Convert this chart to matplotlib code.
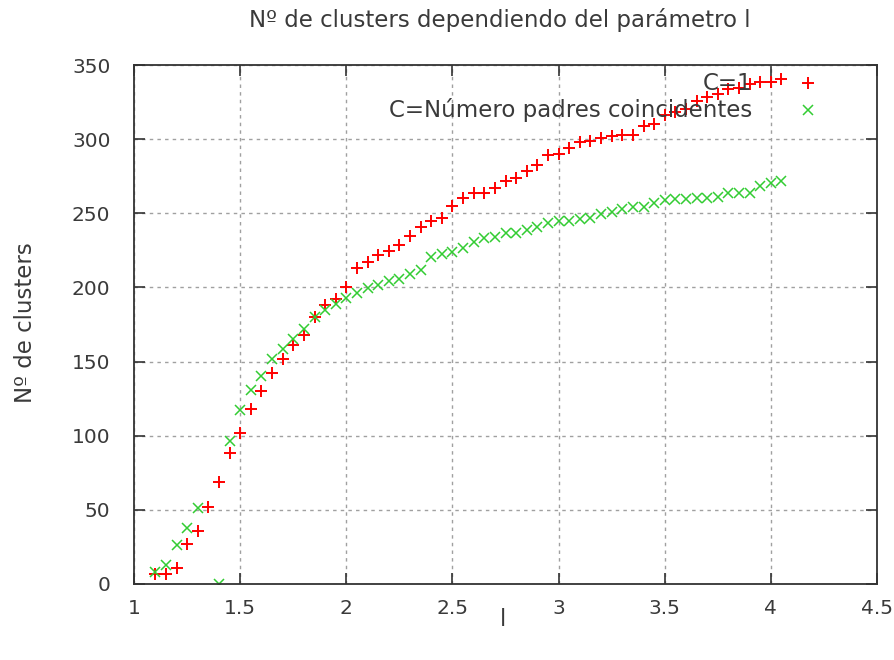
import numpy as np
import matplotlib
matplotlib.use("Agg")
import matplotlib.pyplot as plt
from matplotlib.ticker import FuncFormatter

# Data: parameter l from 1.1 to 4.05 in steps of 0.05
l_values = [round(1.1 + 0.05 * i, 2) for i in range(60)]

c1 = [7, 7, 11, 27, 36, 52, 69, 88, 102, 118,
      130, 142, 152, 161, 168, 180, 188, 192, 200, 213,
      217, 222, 224.5, 228.6, 235, 241, 245, 247, 255, 260,
      263.4, 264, 267, 272, 273.6, 278.7, 282.5, 289.3, 290, 293.8,
      297.8, 299, 301, 302, 302.5, 303, 309, 310.5, 316.5, 318.5,
      320.5, 325.5, 328.6, 330.6, 333.8, 334.8, 337, 338.4, 338.7, 340.7]

c_padres = [8, 13, 26, 37.5, 51, np.nan, 0, 96.6, 117, 131,
            140, 152, 158.5, 165, 172, 180, 185, 189, 193, 196,
            199.4, 201.6, 204, 205.4, 209, 211.7, 220.3, 222.5, 223.7, 226.4,
            230.4, 233, 234.2, 236.5, 237, 238.7, 241, 243.2, 244.8, 244.8,
            246, 246.6, 249.6, 251, 252.7, 254.4, 254.4, 257.1, 258.9, 259.4,
            259.4, 260.1, 260.1, 260.8, 263.4, 263.4, 263.4, 268.4, 270.6, 272]

series_labels = ["C=1", "C=Número padres coincidentes"]
x_ticks = [1, 1.5, 2, 2.5, 3, 3.5, 4, 4.5]
y_ticks = [0, 50, 100, 150, 200, 250, 300, 350]

plt.rcParams['font.family'] = ['DejaVu Sans']
text_color = '#3a3a3a'
red = '#ff0000'
green = '#33cc33'
FS = 16.5
TFS = 14.5

fig = plt.figure(figsize=(8.94, 6.6), dpi=100)
ax = fig.add_axes([0.150, 0.1152, 0.831, 0.7863])

ax.plot(l_values, c1, linestyle='none', marker='+', markersize=8,
        markeredgewidth=1.4, color=red)
ax.plot(l_values, c_padres, linestyle='none', marker='x', markersize=7,
        markeredgewidth=1.1, color=green)

ax.set_xlim(1, 4.5)
ax.set_ylim(0, 350)
ax.set_xticks(x_ticks)
ax.set_yticks(y_ticks)
ax.xaxis.set_major_formatter(FuncFormatter(lambda v, p: f"{v:g}"))
ax.yaxis.set_major_formatter(FuncFormatter(lambda v, p: f"{v:g}"))

ax.tick_params(direction='in', length=8, width=1.2, top=True, right=True,
               labelsize=TFS, colors='#333333', labelcolor=text_color)
ax.tick_params(axis='y', pad=17)
ax.tick_params(axis='x', pad=11)
for s in ax.spines.values():
    s.set_linewidth(1.3)
    s.set_color('#333333')

ax.grid(True, color='#a0a0a0', linestyle=(0, (2.5, 3)), linewidth=1.0)
ax.set_axisbelow(True)

fig.text(0.559, 0.970, "Nº de clusters dependiendo del parámetro l",
         fontsize=FS, color=text_color, ha='center', va='center')
ax.set_xlabel("l", fontsize=FS, color=text_color)
ax.set_ylabel("Nº de clusters", fontsize=FS, color=text_color)
ax.xaxis.label.set_va('center')
ax.yaxis.label.set_va('center')
ax.xaxis.set_label_coords(0.497, -0.069)
ax.yaxis.set_label_coords(-0.1467, 0.503)

# gnuplot-style legend (right-aligned labels, key symbol to the right)
ax.text(0.832, 0.965, series_labels[0], transform=ax.transAxes, ha='right',
        va='center', fontsize=FS, color=text_color)
ax.text(0.832, 0.913, series_labels[1], transform=ax.transAxes, ha='right',
        va='center', fontsize=FS, color=text_color)
ax.plot([0.907], [0.965], transform=ax.transAxes, marker='+', markersize=8,
        markeredgewidth=1.4, color=red, linestyle='none', clip_on=False)
ax.plot([0.907], [0.913], transform=ax.transAxes, marker='x', markersize=7,
        markeredgewidth=1.1, color=green, linestyle='none', clip_on=False)

fig.savefig("out.png", dpi=100)
